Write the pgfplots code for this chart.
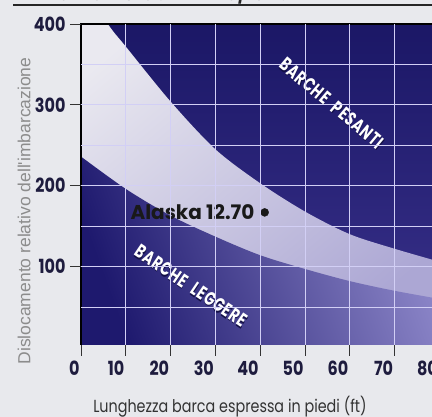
\documentclass[border=0pt]{standalone}
\usepackage{pgfplots}
\pgfplotsset{compat=1.18}
\usepackage{pgfplotstable}
\usepackage{fontspec}
\setmainfont{Poppins}
\newfontfamily\heavy[FakeStretch=0.82]{Poppins}
\newfontfamily\labelfont[FakeStretch=0.82]{Poppins}
\newfontfamily\stencil[FakeStretch=0.72, LetterSpace=4]{Poppins}
\newfontfamily\arialf{Liberation Sans}

\definecolor{bgpaper}{RGB}{232,233,237}
\definecolor{navytop}{RGB}{27,23,102}
\definecolor{navybot}{RGB}{58,50,140}
\definecolor{bandL}{RGB}{234,233,240}
\definecolor{bandR}{RGB}{172,167,212}
\definecolor{lowD}{RGB}{30,25,110}
\definecolor{lowL}{RGB}{142,136,202}
\definecolor{ticktxt}{RGB}{30,28,62}
\definecolor{gridc}{RGB}{210,207,245}
\definecolor{shadowc}{RGB}{20,16,70}

\pgfplotstableread{
x y
0 455
6 400
10 372
20 304
30 245
40 203
50 168
60 140
70 122
80 106
}\uppertab

\pgfplotstableread{
x y
0 236
10 196
20 163
30 137
40 114
50 97
60 82
70 70
80 60
}\lowertab

\begin{document}
\begin{tikzpicture}[x=1pt,y=1pt]
\fill[bgpaper] (0,0) rectangle (432,417);
\node[anchor=base west, inner sep=0, font=\heavy\bfseries\fontsize{20}{20}\selectfont, text=black!85] at (14,416.5) {RAPPORTO DISLOCAMENTO/LUNGHEZZA};
\fill[black!85] (13,410.5) rectangle (432,413);
\begin{axis}[
  at={(81pt,72pt)}, anchor=south west,
  scale only axis, width=358.4pt, height=321pt,
  xmin=0, xmax=80, ymin=3, ymax=400,
  xtick={10,20,...,80}, extra x ticks={0}, extra x tick style={grid=none},
  ytick={100,200,300}, extra y ticks={400}, extra y tick style={grid=none},
  minor ytick={50,150,250,350},
  xtick pos=left, ytick pos=left,
  grid=both,
  major grid style={gridc, line width=0.8pt},
  minor grid style={gridc, line width=0.8pt},
  minor tick length=0pt,
  tick align=outside, major tick length=11pt,
  tick style={black!80, line width=0.8pt},
  axis line style={draw=none},
  axis on top,
  axis background/.style={top color=navytop, bottom color=navybot},
  /pgf/number format/assume math mode=true,
  ticklabel style={font=\heavy\bfseries\fontsize{19.5}{19.5}\selectfont, text=ticktxt},
  xticklabel style={anchor=north east, xshift=2pt, yshift=-1pt},
  yticklabel style={anchor=east, xshift=-1pt},
  clip mode=individual,
]
\addplot[draw=none, top color=bandL, bottom color=bandR, shading angle=40, smooth] table {\uppertab} \closedcycle;
\addplot[draw=none, top color=lowL, bottom color=lowD, shading angle=-70, smooth] table {\lowertab} \closedcycle;
\addplot[only marks, mark=*, mark size=4pt, black!90] coordinates {(41,167)};
\node[anchor=east, inner sep=0, xshift=-10pt, font=\bfseries\fontsize{20}{20}\selectfont, text=black!90] at (axis cs:41,167) {Alaska 12.70};
\node[rotate=-40, text=shadowc, font=\stencil\bfseries\fontsize{19}{19}\selectfont] at (axis cs:56,302) [xshift=1pt, yshift=-1pt] {BARCHE\hspace{8pt}PESANTI};
\node[rotate=-40, text=white, font=\stencil\bfseries\fontsize{19}{19}\selectfont] at (axis cs:56,302) {BARCHE\hspace{8pt}PESANTI};
\node[rotate=-34, text=shadowc, font=\stencil\bfseries\fontsize{19}{19}\selectfont] at (axis cs:24.6,76) [xshift=1pt, yshift=-1pt] {BARCHE\hspace{8pt}LEGGERE};
\node[rotate=-34, text=white, font=\stencil\bfseries\fontsize{19}{19}\selectfont] at (axis cs:24.6,76) {BARCHE\hspace{8pt}LEGGERE};
\draw[black, line width=1.1pt] (rel axis cs:0,0) -- (rel axis cs:0,1) -- (rel axis cs:1,1);
\end{axis}
\node[anchor=base, inner sep=0, font=\labelfont\fontsize{17.5}{17.5}\selectfont, text=black!80] at (230,4) {Lunghezza barca espressa in piedi (ft)};
\node[rotate=90, inner sep=0, font=\arialf\fontsize{17.5}{17.5}\selectfont, text=black!45] at (24,206) {Dislocamento relativo dell'imbarcazione};
\pgfresetboundingbox
\path[use as bounding box] (0,0) rectangle (432,417);
\end{tikzpicture}
\end{document}
